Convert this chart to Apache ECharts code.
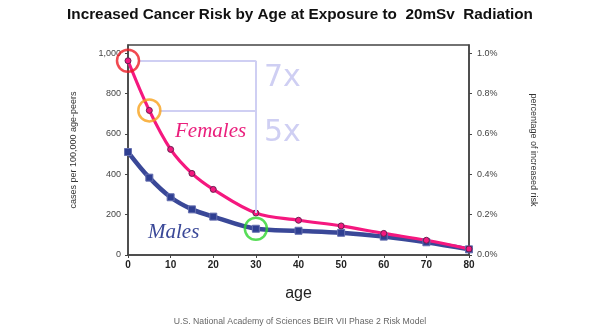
<!DOCTYPE html>
<html><head><meta charset="utf-8">
<script src="https://cdn.jsdelivr.net/npm/echarts@6/dist/echarts.min.js"></script>
<style>html,body{margin:0;padding:0;background:#fff}#c{width:600px;height:333px}</style>
</head><body><div id="c"></div>
<script>
const ages = [0, 5, 10, 15, 20, 30, 40, 50, 60, 70, 80];
const females = [962, 716, 523, 404, 325, 208, 172, 144, 107, 73, 30];
const males = [510, 383, 286, 226, 190, 130, 120, 110, 91, 63, 28];
const leftTicks = [0, 200, 400, 600, 800, 1000];
const rightTicks = [0, 0.2, 0.4, 0.6, 0.8, 1.0];
const xTicks = [0, 10, 20, 30, 40, 50, 60, 70, 80];

const fData = ages.map((a, i) => [a, females[i]]);
const mData = ages.map((a, i) => [a, males[i]]);

const chart = echarts.init(document.getElementById('c'));
const lav = '#cfcff3';
chart.setOption({
  animation: false,
  title: {
    text: 'Increased Cancer Risk by Age at Exposure to  20mSv  Radiation',
    left: 'center', top: 2,
    textStyle: {fontFamily: 'Liberation Sans', fontWeight: 'bold', fontSize: 15.3, color: '#111'}
  },
  grid: {left: 128, right: 131, top: 45, bottom: 78, show: true, borderColor: '#444', borderWidth: 1.5, backgroundColor: '#fff'},
  xAxis: {
    type: 'value', min: 0, max: 80, interval: 10,
    name: 'age', nameLocation: 'middle', nameGap: 31,
    nameTextStyle: {fontFamily: 'Liberation Sans', fontSize: 16, color: '#222'},
    axisLine: {lineStyle: {color: '#444', width: 1.5}},
    axisTick: {show: true, length: 3, lineStyle: {color: '#444'}},
    axisLabel: {fontFamily: 'Liberation Sans', fontWeight: 'bold', fontSize: 10, color: '#222', margin: 5},
    splitLine: {show: false}
  },
  yAxis: [{
    type: 'value', min: 0, max: 1040,
    name: 'cases per 100,000 age-peers', nameLocation: 'middle', nameGap: 50, nameRotate: 90,
    nameTextStyle: {fontFamily: 'Liberation Sans', fontSize: 9, color: '#333'},
    axisLine: {show: true, lineStyle: {color: '#444', width: 1.5}},
    axisTick: {show: true, length: 3, customValues: leftTicks, lineStyle: {color: '#444'}},
    axisLabel: {fontFamily: 'Liberation Sans', fontSize: 9, color: '#444', margin: 7, customValues: leftTicks,
      formatter: v => v === 1000 ? '1,000' : String(v)},
    splitLine: {show: false}
  }, {
    type: 'value', min: 0, max: 1.04, position: 'right',
    name: 'percentage of increased risk', nameLocation: 'middle', nameGap: 60, nameRotate: -90,
    nameTextStyle: {fontFamily: 'Liberation Sans', fontSize: 9, color: '#333'},
    axisLine: {show: true, lineStyle: {color: '#444', width: 1.5}},
    axisTick: {show: true, length: 3, customValues: rightTicks, lineStyle: {color: '#444'}},
    axisLabel: {fontFamily: 'Liberation Sans', fontSize: 9, color: '#444', margin: 8, customValues: rightTicks,
      formatter: v => v.toFixed(1) + '%'},
    splitLine: {show: false}
  }],
  series: [
    {
      type: 'line', name: 'bracket', data: [], silent: true,
      markLine: {
        silent: true, symbol: 'none', animation: false,
        lineStyle: {color: lav, width: 2, type: 'solid'}, label: {show: false},
        data: [
          [{coord: [2.5, females[0]]}, {coord: [30, females[0]]}],
          [{coord: [7.5, females[1]]}, {coord: [30, females[1]]}],
          [{coord: [30, females[0]]}, {coord: [30, females[5]]}]
        ]
      }
    },
    {
      type: 'line', name: 'Males', data: mData, smooth: 0.35,
      lineStyle: {color: '#3a4898', width: 4.5},
      symbol: 'rect', symbolSize: 7,
      itemStyle: {color: '#2f3f92', borderColor: '#6670b0', borderWidth: 1}
    },
    {
      type: 'line', name: 'Females', data: fData, smooth: 0.35,
      lineStyle: {color: '#f5187f', width: 3.2},
      symbol: 'circle', symbolSize: 6,
      itemStyle: {color: '#f5187f', borderColor: '#6a2050', borderWidth: 1}
    },
    {
      type: 'scatter', name: 'highlights', symbol: 'circle', symbolSize: 22, silent: true,
      data: [
        {value: fData[0], itemStyle: {borderColor: '#ee1c24'}},
        {value: fData[1], itemStyle: {borderColor: '#f7a11a'}},
        {value: mData[5], itemStyle: {borderColor: '#2ed52e'}}
      ],
      itemStyle: {color: 'rgba(0,0,0,0)', borderWidth: 2.5}, z: 5
    }
  ],
  graphic: [
    {type: 'text', left: 264, top: 63, style: {text: '7x', fontFamily: 'DejaVu Sans', fontSize: 30, fill: lav}},
    {type: 'text', left: 264, top: 118, style: {text: '5x', fontFamily: 'DejaVu Sans', fontSize: 30, fill: lav}},
    {type: 'text', left: 175, top: 121, style: {text: 'Females', fontFamily: 'Liberation Serif', fontStyle: 'italic', fontSize: 21, fill: '#ea1e7c'}},
    {type: 'text', left: 148, top: 222, style: {text: 'Males', fontFamily: 'Liberation Serif', fontStyle: 'italic', fontSize: 21, fill: '#3a4898'}},
    {type: 'text', left: 'center', top: 317, style: {text: 'U.S. National Academy of Sciences BEIR VII Phase 2 Risk Model', fontFamily: 'Liberation Sans', fontSize: 8.7, fill: '#666'}}
  ]
});
</script></body></html>
